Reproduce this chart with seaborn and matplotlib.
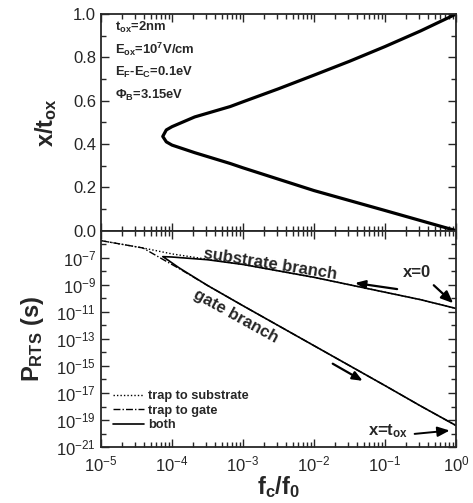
import numpy as np
import pandas as pd
import matplotlib
matplotlib.use("Agg")
import matplotlib.pyplot as plt
import matplotlib.ticker as mticker
import seaborn as sns

# --- top panel: trap position vs normalised corner frequency (log10 f) ---
pos_top = [0.0, 0.093, 0.185, 0.29, 0.31, 0.36, 0.395, 0.41, 0.435,
           0.465, 0.48, 0.525, 0.573, 0.595, 0.655, 0.718, 0.782, 0.85, 0.922, 1.0]
logf_top = [0.0, -1.0, -2.0, -3.0, -3.18, -3.68, -4.0, -4.08, -4.13,
            -4.08, -4.0, -3.68, -3.18, -3.0, -2.5, -2.0, -1.5, -1.0, -0.5, 0.0]

# --- bottom panel: P_RTS (log10 s) vs normalised corner frequency (log10 f) ---
logf_sub = [-5.0, -4.41, -4.0, -3.5, -3.0, -2.0, -1.0, -0.5, 0.0]
logp_sub = [-5.74, -6.28, -6.72, -7.12, -7.5, -8.45, -9.55, -10.1, -10.75]

logf_gate = [-5.0, -4.41, -4.13, -3.9, -3.5, -3.0, -2.0, -1.0, -0.5, 0.0]
logp_gate = [-5.74, -6.28, -7.12, -7.8, -9.05, -10.55, -13.5, -16.45, -17.95, -19.4]

logf_both = [0.0, -0.5, -1.0, -2.0, -3.0, -3.5, -3.9, -4.05, -4.13,
             -4.0, -3.5, -3.0, -2.0, -1.0, -0.5, 0.0]
logp_both = [-19.4, -17.95, -16.45, -13.5, -10.55, -9.05, -7.75, -7.2, -6.92,
             -6.95, -7.15, -7.5, -8.45, -9.55, -10.1, -10.75]

legend_labels = ["trap to substrate", "trap to gate", "both"]

sns.set_style("ticks")
plt.rcParams["font.family"] = ["Liberation Sans", "DejaVu Sans"]
plt.rcParams["mathtext.fontset"] = "custom"
plt.rcParams["mathtext.rm"] = "Liberation Sans"
plt.rcParams["mathtext.bf"] = "Liberation Sans:bold"
plt.rcParams["mathtext.default"] = "regular"
plt.rcParams["axes.linewidth"] = 1.3

fig, (ax1, ax2) = plt.subplots(2, 1, figsize=(4.73, 5.03), dpi=100, sharex=True)
fig.subplots_adjust(left=0.2135, right=0.964, top=0.972, bottom=0.111, hspace=0)

line_kw = dict(x="f", sort=False, estimator=None, errorbar=None, color="black")

top_df = pd.DataFrame({"f": 10.0 ** np.array(logf_top), "x": pos_top})
sns.lineplot(data=top_df, y="x", lw=2.3, ax=ax1, **line_kw)

sub_df = pd.DataFrame({"f": 10.0 ** np.array(logf_sub), "p": 10.0 ** np.array(logp_sub)})
gate_df = pd.DataFrame({"f": 10.0 ** np.array(logf_gate), "p": 10.0 ** np.array(logp_gate)})
both_df = pd.DataFrame({"f": 10.0 ** np.array(logf_both), "p": 10.0 ** np.array(logp_both)})
sns.lineplot(data=sub_df, y="p", lw=1.0, linestyle=(0, (1, 1.5)),
             label=legend_labels[0], ax=ax2, **line_kw)
sns.lineplot(data=gate_df, y="p", lw=1.0, linestyle=(0, (5, 1.5, 1, 1.5)),
             label=legend_labels[1], ax=ax2, **line_kw)
sns.lineplot(data=both_df, y="p", lw=1.2, label=legend_labels[2], ax=ax2, **line_kw)

ax2.set_xscale("log")
ax2.set_yscale("log")
ax2.set_xlim(1e-5, 1)
ax2.set_ylim(1e-21, 1e-5)
ax1.set_ylim(0, 1)

ax1.yaxis.set_major_locator(mticker.MultipleLocator(0.2))
ax1.yaxis.set_minor_locator(mticker.MultipleLocator(0.1))
ax1.yaxis.set_major_formatter(mticker.FormatStrFormatter("%.1f"))

ax2.yaxis.set_major_locator(mticker.FixedLocator([10.0 ** e for e in range(-21, -6, 2)]))
ax2.yaxis.set_minor_locator(mticker.FixedLocator([10.0 ** e for e in range(-20, -4, 2)]))
ax2.yaxis.set_minor_formatter(mticker.NullFormatter())
ax2.yaxis.set_major_formatter(mticker.LogFormatterMathtext())
ax2.xaxis.set_major_locator(mticker.LogLocator(base=10, numticks=10))
ax2.xaxis.set_minor_locator(mticker.LogLocator(base=10, subs=np.arange(2, 10), numticks=10))
ax2.xaxis.set_major_formatter(mticker.LogFormatterMathtext())

for ax in (ax1, ax2):
    ax.tick_params(which="both", direction="in", top=True, right=True,
                   labelsize=12, width=1.0)
    ax.tick_params(which="major", length=6)
    ax.tick_params(which="minor", length=3.5)
ax2.tick_params(axis="x", pad=5)

ax1.set_xlabel("")
ax1.set_ylabel(r"x/t$_{\mathbf{ox}}$", fontsize=17, fontweight="bold", labelpad=10)
ax2.set_ylabel(r"P$_{\mathbf{RTS}}$ (s)", fontsize=17, fontweight="bold", labelpad=7)
ax2.set_xlabel(r"f$_{\mathbf{c}}$/f$_{\mathbf{0}}$", fontsize=17, fontweight="bold", labelpad=0)

# parameter block
params = [r"t$_{\mathbf{ox}}$=2nm",
          r"E$_{\mathbf{ox}}$=10$^{\mathbf{7}}$V/cm",
          r"E$_{\mathbf{F}}$-E$_{\mathbf{C}}$=0.1eV",
          r"Φ$_{\mathbf{B}}$=3.15eV"]
for i, t in enumerate(params):
    ax1.text(0.04, 0.94 - i * 0.105, t, transform=ax1.transAxes, fontsize=9.4,
             fontweight="bold", va="center", ha="left")

# branch labels and arrows
ax2.text(10 ** -2.62, 10 ** -7.45, "substrate branch", rotation=-9, fontsize=12,
         fontweight="bold", ha="center", va="center")
ax2.text(10 ** -3.1, 10 ** -11.3, "gate branch", rotation=-29, fontsize=12,
         fontweight="bold", ha="center", va="center")
head = "-|>,head_length=0.6,head_width=0.25"
ax2.annotate("", xy=(10 ** -1.46, 10 ** -8.84), xytext=(10 ** -0.79, 10 ** -9.35),
             arrowprops=dict(arrowstyle=head, color="black", lw=1.6))
ax2.annotate("", xy=(10 ** -1.28, 10 ** -16.2), xytext=(10 ** -1.77, 10 ** -14.73),
             arrowprops=dict(arrowstyle=head, color="black", lw=1.6))
ax2.annotate("x=0", xy=(10 ** -0.01, 10 ** -10.5), xytext=(10 ** -0.55, 10 ** -8.1),
             fontsize=12, fontweight="bold", ha="center", va="center",
             arrowprops=dict(arrowstyle=head, color="black", lw=1.6, shrinkA=2,
                             relpos=(0.9, 0.0)))
ax2.annotate(r"x=t$_{\mathbf{ox}}$", xy=(10 ** -0.05, 10 ** -19.75),
             xytext=(10 ** -0.95, 10 ** -19.8), fontsize=12, fontweight="bold",
             ha="center", va="center",
             arrowprops=dict(arrowstyle=head, color="black", lw=1.4, shrinkA=2,
                             relpos=(1.0, 0.3)))

ax2.legend(loc="lower left", bbox_to_anchor=(0.02, 0.05), borderaxespad=0,
           frameon=False, prop={"weight": "bold", "size": 9.2}, handlelength=2.4,
           handletextpad=0.3, labelspacing=0.2)

fig.savefig("out.png", dpi=100)
